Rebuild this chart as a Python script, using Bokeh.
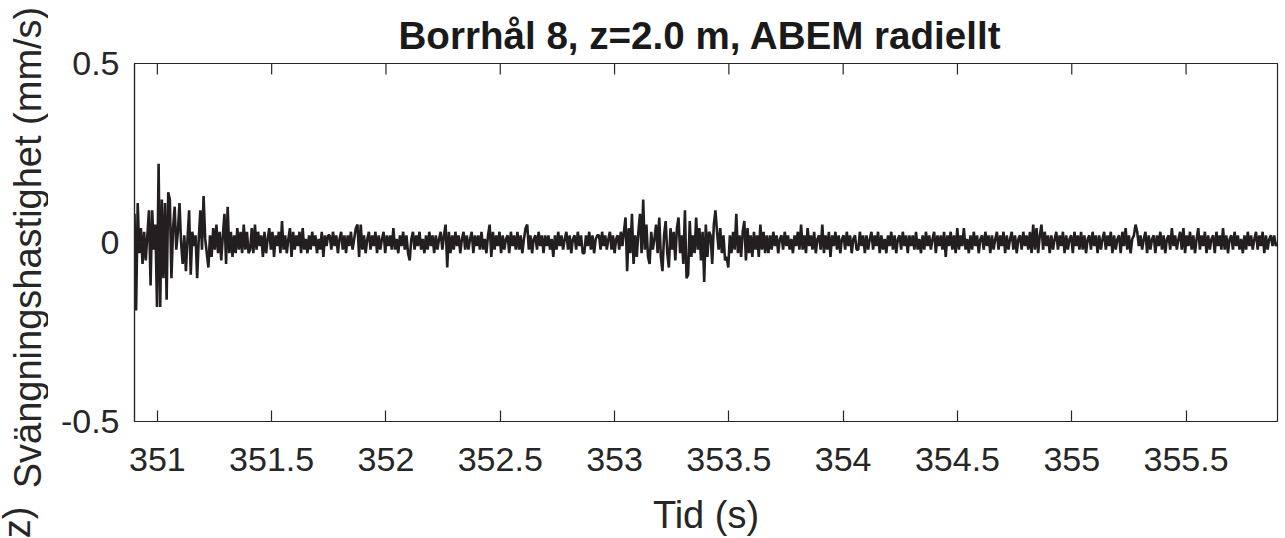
import numpy as np
from bokeh.plotting import figure
from bokeh.layouts import row
from bokeh.models import Range1d, FixedTicker
from bokeh.core.properties import value
from bokeh.embed import file_html
from bokeh.resources import INLINE

# ---------------- data ----------------
title_text = "Borrhål 8, z=2.0 m, ABEM radiellt"
x_label = "Tid (s)"
y_label = "Svängningshastighet (mm/s)"
next_label = "(Hz)"

x_ticks = [351, 351.5, 352, 352.5, 353, 353.5, 354, 354.5, 355, 355.5]
y_ticks = [-0.5, 0, 0.5]
x_limits = [350.9, 355.9]
y_limits = [-0.5, 0.5]

# segment boundaries in time (s)
segment_bounds = [350.9, 351.406, 351.754, 352.932, 353.041, 353.673, 354.066, 355.9]

# velocity samples in hundredths of mm/s, per segment
seg_onset = [8, -19, 11, -3, 4, -6, 3, -5, 2, 9, -12, 9, -2, 5, -18, 22, -18, 12, -10, 11,
             -16, 14, 12, -10, 4, 10, -2, 3, 11, 0, -6, 2, -8, 1, 9, -9, 3, -1, 2, -10,
             1, 9, -2, 13, 1, -3, -7, 2, -4, 4, -2, 5, -3, 3, -5, 2, 8, -6, 10, -3,
             3, -4, 2, -3, 4, -2, 3, -3, 5, -2, 3, -3]
seg_decay = [-2, 4, -3, 5, -2, 3, -1, 2, -4, 3, -3, 1, 4, -2, 3, -4, 2, -1, 3, -3,
             6, -2, 2, -3, 1, 4, -4, 3, -2, 2, -1, 3, -3, 4, -2, 1, -3, 2, -2, 3,
             -1, 2, -3, 1, -2, 3, -4, 2, -1, 2]
seg_quiet1 = [2, -2, 3, -1, 2, -3, 1, 3, -2, 2, -3, 2, -1, 3, -2, 1, 4, 5, -4, 5,
              -2, 2, -3, 1, 3, -2, 2, -1, 3, -3, 2, -2, 1, 3, -3, 2, -1, 2, -2, 4,
              -2, 1, -3, 2, -1, 3, -2, 2, -3, -5, 1, 3, -2, 2, -1, 3, -2, 1, -3, 2,
              -2, 3, -1, 2, -3, 2, -2, 1, 3, -2, 2, 5, -7, 3, -3, 2, -2, 3, -1, 2,
              -3, 1, 3, -2, 2, -2, 1, 3, -3, 2, -1, 2, -2, 3, -2, 1, -3, 2, 5, -4,
              3, -2, 2, -1, 3, -3, 2, -2, 1, 2, -3, 3, -1, 2, -2, 3, -2, 2, -3, 1,
              4, 5, -2, 2, -3, 1, 2, -2, 3, -1, 2, -3, 2, -1, 2, -2, 1, -4, 2, -2,
              3, -1, 2, -2, 1, 3, -2, 2, -3, 1, 2, -2, 3, -1, 2, -3, -3, 2, -1, 3,
              -2, 2, -3, 1, 2]
seg_pre = [2, -2, 3, -1, 2, -2, 1, 3, -2, 2, -3, 1, 2, -2, 3, -1]
seg_burst = [3, 7, -8, 4, -3, 8, -6, 2, -4, 3,
             8, -3, 12, -2, 5, -4, -6, 3, -2, 1,
             5, -3, 7, -4, -8, 2, 6, -3, -7, 4,
             -2, 3, -5, 4, 7, -3, 2, -6, 9, -10,
             -9, 6, -4, 2, -3, 7, -2, 4, -5, 3,
             -11, 5, -4, 3, 2, -6, 5, 9, 3, -2,
             4, -3, 2, -5, -4, -7, 2, -3, 3, -2,
             8, -3, 2, -4, 3, 6, -5, 4, -3, 2,
             -4, 3, -2, 2, -4, 5, -2, 3, -3, 2]
seg_after = [-3, 2, -2, 3, -1, 2, -3, 1, 2, -2, 3, -1, 2, -2, 1, -3, 2, -1, 3, -2,
             5, -2, 2, -3, 4, -1, 2, -2, 3, -3, 1, 2, -2, 5, -3, 2, -2, 3, -4, 2,
             -1, 3, -2, 2, -3, 1, 2, -2, 3, -1, 2, -3, 1, 2, -2]
seg_tail = [-2, 3, -1, 2, -3, 2, -2, 1, 3, -2, 2, -1, 3, -3, 2,
            -2, 1, -3, 2, -1, 3, -2, 2, -3, 1, 2, -2, 3, -1, 2,
            -3, 2, -1, 2, -2, 3, -2, 1, -3, 2, -2, 3, -1, 2, -2,
            1, 3, -3, 2, -1, 2, -2, 3, -4, 2, -1, 3, -2, 2, -3,
            4, -2, 2, -1, 4, -2, 1, -3, 2, -2, 3, -1, 2, -3, 1,
            2, -2, 3, -1, 2, -3, 2, -2, 1, 3, -2, 2, -1, 3, -3,
            2, -2, 1, 3, -2, 2, -3, 1, 2, -2, 3, -1, 2, -2, 3,
            -3, 5, -2, 4, -3, 2, 5, -2, 3, -1, 2, -3, 2, -2, 1,
            3, -2, 2, -1, 3, -3, 2, -2, 1, 2, -3, 3, -1, 2, -2,
            3, -2, 2, -3, 1, 2, -2, 3, -1, 2, -3, 2, -2, 1, 3,
            -2, 2, -1, 3, -3, 2, -2, 1, 2, -3, 3, -1, 4, -2, 2,
            -3, 1, 2, 5, 3, -1, 2, -2, 1, 3, -3, 2, -2, 1, 2,
            -3, 2, -1, 3, -2, 2, -3, 1, 2, -2, 4, -1, 2, -2, 1,
            3, -2, 4, -3, 2, -1, 3, -2, 2, -3, 1, 4, -2, 2, -1,
            3, -3, 2, -2, 1, 2, -3, 3, -1, 2, -2, 4, -2, 2, -3,
            1, 2, -2, 3, -1, 2, -2, 1, -3, 2, -2, 3, -1, 2, -2,
            1, 3, -2, 2, -1, 3, -3, 2, -2, 1, 2, -1, 2, -1, 0]

segments = [seg_onset, seg_decay, seg_quiet1, seg_pre, seg_burst, seg_after, seg_tail]

# ---------------- assemble ----------------
t_parts, v_parts = [], []
for k, seg in enumerate(segments):
    last = k == len(segments) - 1
    t_parts.append(np.linspace(segment_bounds[k], segment_bounds[k + 1], len(seg), endpoint=last))
    v_parts.append(np.array(seg, dtype=float) / 100.0)
t = np.concatenate(t_parts)
v = np.concatenate(v_parts)

FONT = "Liberation Sans"
AX = "#262626"
TICK_LEN = 0.031  # inward tick length on the top edge, in y data units (~11 px)
H = 538
SIDE_W = 48

# ---------------- side strip holding the rotated y-axis title ----------------
side = figure(width=SIDE_W, height=H, output_backend="svg", toolbar_location=None,
              x_range=Range1d(0, SIDE_W), y_range=Range1d(0, H),
              x_axis_type=None, y_axis_type=None,
              min_border_left=0, min_border_right=0, min_border_top=0, min_border_bottom=0,
              background_fill_color="white", border_fill_color="white")
side.frame_align = False
side.outline_line_color = None
side.grid.visible = False
side.text(x=[27], y=[H - 247], text=[y_label], angle=np.pi / 2,
          text_align="center", text_baseline="alphabetic",
          text_font=value(FONT), text_font_size=value("38px"), text_color=AX)
# cut-off label of the next panel's y axis (bottom-left corner)
side.text(x=[16], y=[H - 506], text=[next_label], angle=np.pi / 2,
          text_align="right", text_baseline="alphabetic",
          text_font=value(FONT), text_font_size=value("38px"), text_color=AX)

# ---------------- main plot ----------------
p = figure(width=1279 - SIDE_W, height=H, output_backend="svg", toolbar_location=None,
           x_range=Range1d(*x_limits), y_range=Range1d(*y_limits),
           min_border_left=134 - SIDE_W, min_border_right=2, min_border_top=63, min_border_bottom=117,
           title=title_text, background_fill_color="white", border_fill_color="white")
p.frame_align = False
p.outline_line_color = AX
p.outline_line_width = 1.2
p.grid.visible = False

p.title.align = "left"
p.title.offset = 264
p.title.text_font = FONT
p.title.text_font_size = "38.6px"
p.title.text_font_style = "bold"
p.title.text_color = "#1a1a1a"
p.title.standoff = 13

p.line(t, v, line_color="#231f20", line_width=2.6)

# inward ticks on the top edge of the box
p.segment(x0=x_ticks, y0=[y_limits[1]] * len(x_ticks),
          x1=x_ticks, y1=[y_limits[1] - TICK_LEN] * len(x_ticks),
          line_color=AX, line_width=1.2)


def style_axis(ax, ticks):
    ax.ticker = FixedTicker(ticks=ticks)
    ax.major_label_overrides = {tk: f"{tk:g}" for tk in ticks}
    ax.major_tick_in = 11
    ax.major_tick_out = 0
    ax.minor_tick_in = 0
    ax.minor_tick_out = 0
    ax.axis_line_color = AX
    ax.axis_line_width = 1.2
    ax.major_tick_line_color = AX
    ax.major_tick_line_width = 1.2
    ax.major_label_text_font = FONT
    ax.major_label_text_color = AX
    ax.major_label_text_font_size = "34px"


xa = p.xaxis[0]
style_axis(xa, x_ticks)
xa.major_label_standoff = 26
xa.axis_label = x_label
xa.axis_label_text_font = FONT
xa.axis_label_text_font_size = "38px"
xa.axis_label_text_font_style = "normal"
xa.axis_label_text_color = AX
xa.axis_label_standoff = 20

ya = p.yaxis[0]
style_axis(ya, y_ticks)
ya.major_label_standoff = 15

open("out.html", "w").write(file_html(row(side, p), INLINE))
